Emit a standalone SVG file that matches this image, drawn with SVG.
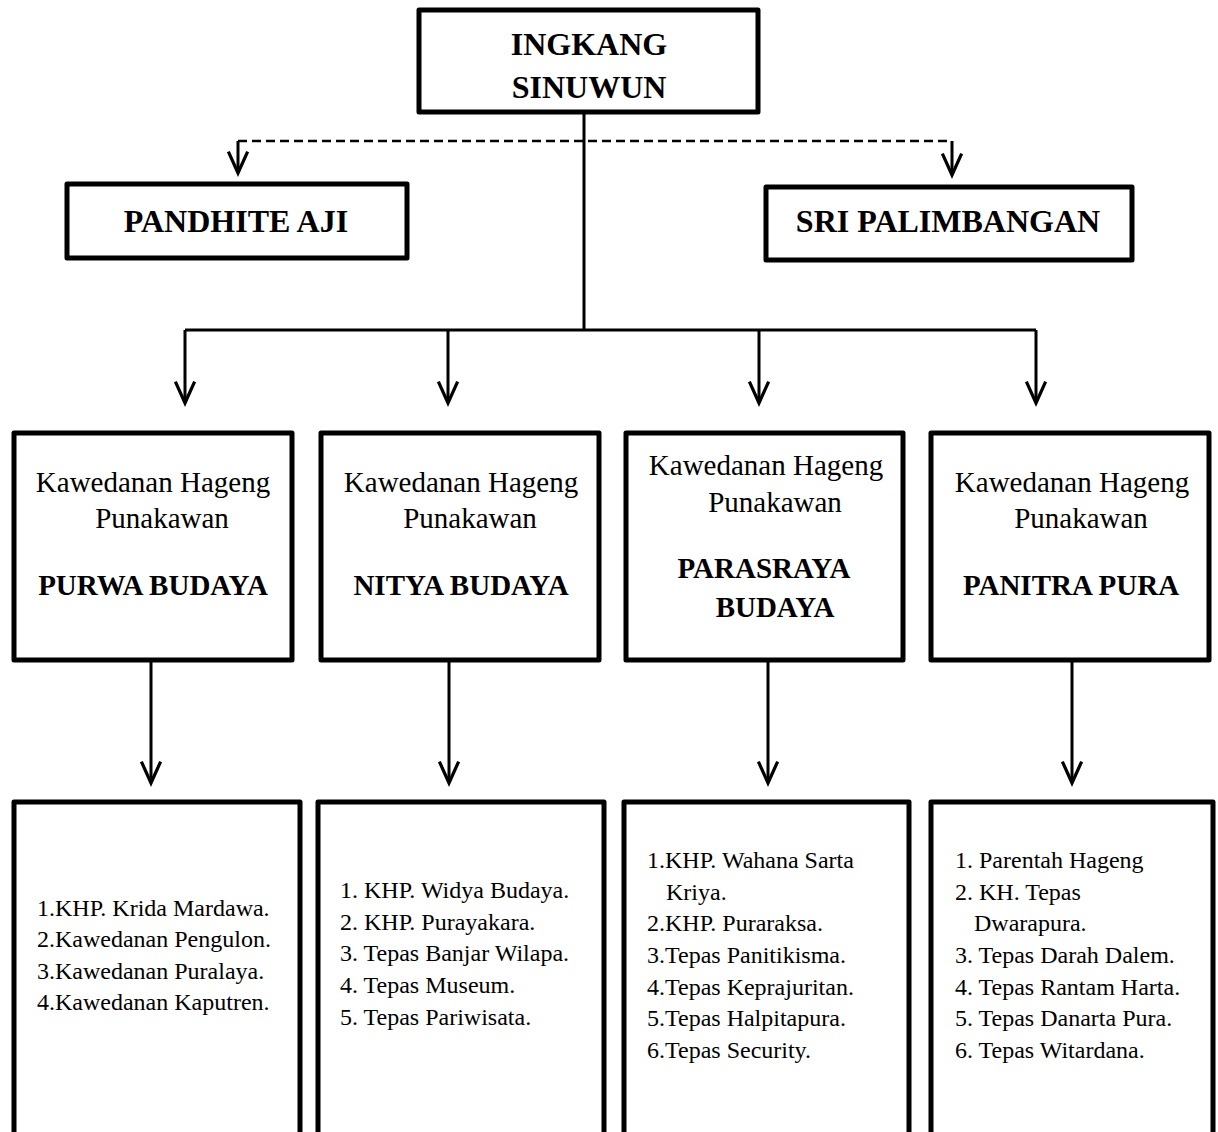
<svg xmlns="http://www.w3.org/2000/svg" width="1218" height="1132" viewBox="0 0 1218 1132">
<style>
.box{fill:#fff;stroke:#000;stroke-width:5;stroke-linejoin:round}
.ln{fill:none;stroke:#000;stroke-width:3}
.dash{fill:none;stroke:#000;stroke-width:2.5;stroke-dasharray:9 5}
text{font-family:"Liberation Serif","Times New Roman",serif;fill:#000}
.tb{font-weight:bold;font-size:32px;text-anchor:middle}
.mb{font-weight:bold;font-size:29px;text-anchor:middle}
.mr{font-size:29px;text-anchor:middle}
.ls{font-size:24px}
</style>
<defs>
<marker id="ah" markerUnits="userSpaceOnUse" markerWidth="30" markerHeight="30" viewBox="-24 -12 28 24" refX="0" refY="0" orient="auto" overflow="visible">
<path d="M-20,-9 L0,0 L-20,9" fill="none" stroke="#000" stroke-width="3"/>
</marker>
</defs>
<rect width="1218" height="1132" fill="#fff"/>
<g id="connectors">
<line class="ln" x1="584" y1="112" x2="584" y2="330"/>
<line class="ln" x1="185" y1="330" x2="1036" y2="330"/>
<line class="ln" x1="185" y1="330" x2="185" y2="403" marker-end="url(#ah)"/>
<line class="ln" x1="448" y1="330" x2="448" y2="403" marker-end="url(#ah)"/>
<line class="ln" x1="759" y1="330" x2="759" y2="403" marker-end="url(#ah)"/>
<line class="ln" x1="1036" y1="330" x2="1036" y2="403" marker-end="url(#ah)"/>
<line class="dash" x1="238" y1="141" x2="952" y2="141"/>
<line class="ln" x1="238" y1="141" x2="238" y2="173" marker-end="url(#ah)"/>
<line class="ln" x1="952" y1="141" x2="952" y2="175" marker-end="url(#ah)"/>
<line class="ln" x1="151" y1="660" x2="151" y2="783" marker-end="url(#ah)"/>
<line class="ln" x1="449" y1="660" x2="449" y2="783" marker-end="url(#ah)"/>
<line class="ln" x1="768" y1="660" x2="768" y2="783" marker-end="url(#ah)"/>
<line class="ln" x1="1072" y1="660" x2="1072" y2="783" marker-end="url(#ah)"/>
</g>
<g id="ingkang-sinuwun">
<rect class="box" x="419" y="10" width="339" height="102"/>
<text class="tb" x="589" y="55">INGKANG</text>
<text class="tb" x="589" y="98">SINUWUN</text>
</g>
<g id="pandhite-aji">
<rect class="box" x="67" y="184" width="340" height="74"/>
<text class="tb" x="236" y="232">PANDHITE AJI</text>
</g>
<g id="sri-palimbangan">
<rect class="box" x="766" y="187" width="366" height="73"/>
<text class="tb" x="948" y="232">SRI PALIMBANGAN</text>
</g>
<g id="purwa-budaya">
<rect class="box" x="14" y="433" width="278" height="227"/>
<text class="mr" x="153" y="492">Kawedanan Hageng</text>
<text class="mr" x="162" y="528">Punakawan</text>
<text class="mb" x="153" y="595">PURWA BUDAYA</text>
</g>
<g id="nitya-budaya">
<rect class="box" x="321" y="433" width="278" height="227"/>
<text class="mr" x="461" y="492">Kawedanan Hageng</text>
<text class="mr" x="470" y="528">Punakawan</text>
<text class="mb" x="461" y="595">NITYA BUDAYA</text>
</g>
<g id="parasraya-budaya">
<rect class="box" x="626" y="433" width="277" height="227"/>
<text class="mr" x="766" y="475">Kawedanan Hageng</text>
<text class="mr" x="775" y="512">Punakawan</text>
<text class="mb" x="764" y="578">PARASRAYA</text>
<text class="mb" x="775" y="617">BUDAYA</text>
</g>
<g id="panitra-pura">
<rect class="box" x="931" y="433" width="278" height="227"/>
<text class="mr" x="1072" y="492">Kawedanan Hageng</text>
<text class="mr" x="1081" y="528">Punakawan</text>
<text class="mb" x="1071" y="595">PANITRA PURA</text>
</g>
<g id="list-purwa">
<rect class="box" x="14" y="802" width="286" height="340"/>
<text class="ls" x="37" y="916">1.KHP. Krida Mardawa.</text>
<text class="ls" x="37" y="947">2.Kawedanan Pengulon.</text>
<text class="ls" x="37" y="979">3.Kawedanan Puralaya.</text>
<text class="ls" x="37" y="1010">4.Kawedanan Kaputren.</text>
</g>
<g id="list-nitya">
<rect class="box" x="318" y="802" width="286" height="340"/>
<text class="ls" x="340" y="898">1. KHP. Widya Budaya.</text>
<text class="ls" x="340" y="930">2. KHP. Purayakara.</text>
<text class="ls" x="340" y="961">3. Tepas Banjar Wilapa.</text>
<text class="ls" x="340" y="993">4. Tepas Museum.</text>
<text class="ls" x="340" y="1025">5. Tepas Pariwisata.</text>
</g>
<g id="list-parasraya">
<rect class="box" x="624" y="802" width="285" height="340"/>
<text class="ls" x="647" y="868">1.KHP. Wahana Sarta</text>
<text class="ls" x="666" y="900">Kriya.</text>
<text class="ls" x="647" y="931">2.KHP. Puraraksa.</text>
<text class="ls" x="647" y="963">3.Tepas Panitikisma.</text>
<text class="ls" x="647" y="995">4.Tepas Keprajuritan.</text>
<text class="ls" x="647" y="1026">5.Tepas Halpitapura.</text>
<text class="ls" x="647" y="1058">6.Tepas Security.</text>
</g>
<g id="list-panitra">
<rect class="box" x="931" y="802" width="282" height="340"/>
<text class="ls" x="955" y="868">1. Parentah Hageng</text>
<text class="ls" x="955" y="900">2. KH. Tepas</text>
<text class="ls" x="974" y="931">Dwarapura.</text>
<text class="ls" x="955" y="963">3. Tepas Darah Dalem.</text>
<text class="ls" x="955" y="995">4. Tepas Rantam Harta.</text>
<text class="ls" x="955" y="1026">5. Tepas Danarta Pura.</text>
<text class="ls" x="955" y="1058">6. Tepas Witardana.</text>
</g>
</svg>
